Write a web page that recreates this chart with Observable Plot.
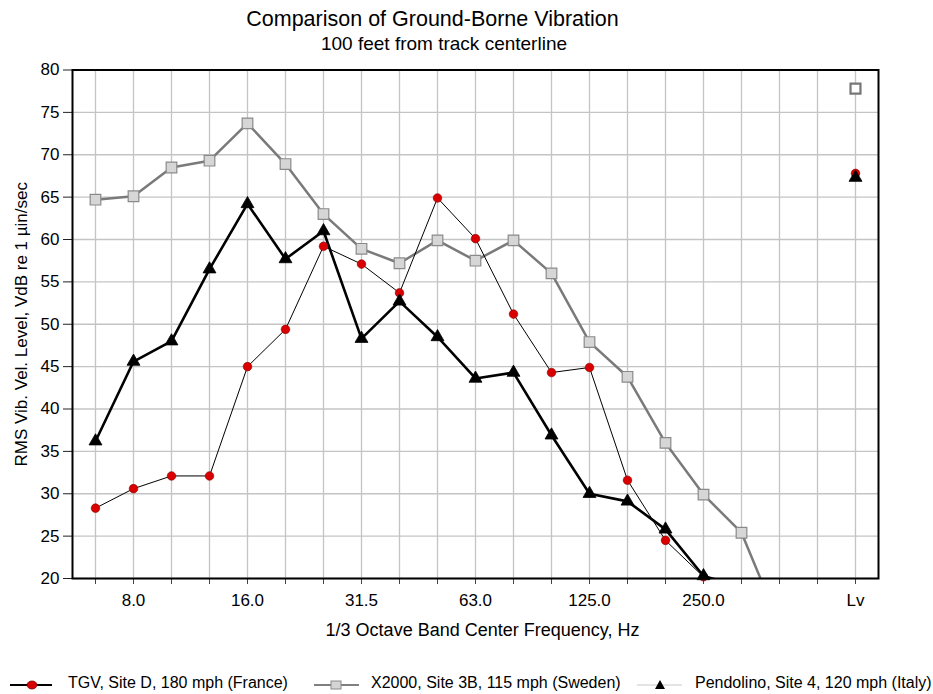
<!DOCTYPE html>
<html><head><meta charset="utf-8">
<script src="https://cdn.jsdelivr.net/npm/d3@7"></script>
<script src="https://cdn.jsdelivr.net/npm/@observablehq/plot@0.6"></script>
<style>
body{margin:0;background:#fff;font-family:"Liberation Sans",Arial,sans-serif;color:#000;}
#wrap{position:relative;width:933px;height:694px;overflow:hidden;background:#fff;}
.t{position:absolute;white-space:nowrap;}
#chart{position:absolute;left:0;top:58px;}
.sw{position:absolute;}
</style></head><body>
<div id="wrap">
  <div class="t" style="left:0;width:865px;text-align:center;top:8px;font-size:21.5px;line-height:22px;">Comparison of Ground-Borne Vibration</div>
  <div class="t" style="left:0;width:888px;text-align:center;top:34px;font-size:19px;line-height:19px;">100 feet from track centerline</div>
  <div id="chart"></div>
  <svg class="sw" style="left:8px;top:677px" width="48" height="16">
    <line x1="2" y1="8" x2="44" y2="8" stroke="#000" stroke-width="2"/>
    <ellipse cx="24" cy="8" rx="5" ry="4" fill="#d80000" stroke="#700" stroke-width="0.8"/>
  </svg>
  <div class="t" style="left:68px;top:675px;font-size:16px;line-height:16px;">TGV, Site D, 180 mph (France)</div>
  <svg class="sw" style="left:312px;top:677px" width="50" height="16">
    <line x1="2" y1="8" x2="47" y2="8" stroke="#808080" stroke-width="2"/>
    <rect x="19" y="4" width="10" height="8" fill="#d4d4d4" stroke="#8a8a8a" stroke-width="1"/>
  </svg>
  <div class="t" style="left:371px;top:675px;font-size:16px;line-height:16px;">X2000, Site 3B, 115 mph (Sweden)</div>
  <svg class="sw" style="left:635px;top:677px" width="50" height="16">
    <line x1="2" y1="8" x2="47" y2="8" stroke="#c8c8c8" stroke-width="1"/>
    <path d="M25,3 L30,12 L20,12 Z" fill="#000"/>
  </svg>
  <div class="t" style="left:695px;top:675px;font-size:16px;line-height:16px;">Pendolino, Site 4, 120 mph (Italy)</div>
</div>
<script>
// 1/3 octave band centre frequencies (Hz) plus overall level Lv
const bands = ["6.3","8.0","10.0","12.5","16.0","20.0","25.0","31.5","40.0","50.0","63.0","80.0","100.0","125.0","160.0","200.0","250.0","315.0","400.0","500.0","Lv"];
const labelledBands = ["8.0","16.0","31.5","63.0","125.0","250.0","Lv"];
const yTicks = [20,25,30,35,40,45,50,55,60,65,70,75,80];

const seriesNames = ["TGV, Site D, 180 mph (France)","X2000, Site 3B, 115 mph (Sweden)","Pendolino, Site 4, 120 mph (Italy)"];
// band spectra (VdB), starting at 6.3 Hz
const tgv = [28.3,30.6,32.1,32.1,45.0,49.4,59.2,57.1,53.7,64.9,60.1,51.2,44.3,44.9,31.6,24.5,20.2];
const x2000 = [64.7,65.1,68.5,69.3,73.7,68.9,63.0,58.9,57.2,59.9,57.5,59.9,56.0,47.9,43.8,36.0,29.9,25.4,14.6];
const pendolino = [36.2,45.6,48.0,56.5,64.2,57.7,61.0,48.3,52.7,48.5,43.6,44.3,36.9,30.0,29.1,25.8,20.3,19.0];
// overall levels Lv (VdB)
const lvValues = [67.8, 77.8, 67.3];

const toRows = (arr) => arr.map((v, i) => ({band: bands[i], v}));
const tgvRows = toRows(tgv), x2000Rows = toRows(x2000), pendRows = toRows(pendolino);
const lvRows = lvValues.map((v, i) => ({band: "Lv", v, s: seriesNames[i]}));

const chart = Plot.plot({
  width: 933,
  height: 600,
  marginLeft: 72,
  marginRight: 55,
  marginTop: 11.5,
  marginBottom: 80,
  style: {fontFamily: "'Liberation Sans', Arial, sans-serif", fontSize: "17px", color: "#000", background: "#fff"},
  x: {type: "point", domain: bands, padding: 0.5},
  y: {domain: [20, 80]},
  marks: [
    Plot.gridX(bands, {stroke: "#c4c4c4", strokeOpacity: 1, strokeWidth: 1.3}),
    Plot.gridY(yTicks, {stroke: "#c4c4c4", strokeOpacity: 1, strokeWidth: 1.3}),
    Plot.axisY(yTicks, {tickSize: 9, tickPadding: 4, fontSize: 17, label: null, stroke: "#222"}),
    Plot.axisX(bands, {tickSize: 6, tickPadding: 9, fontSize: 17, label: null, stroke: "#444",
      tickFormat: d => labelledBands.includes(d) ? d : ""}),
    Plot.text(["1/3 Octave Band Center Frequency, Hz"], {frameAnchor: "bottom", lineAnchor: "top", textAnchor: "middle", dy: 45, dx: 7, fontSize: 18}),
    Plot.text(["RMS Vib. Vel. Level, VdB re 1 µin/sec"], {frameAnchor: "left", textAnchor: "middle", lineAnchor: "middle", rotate: -90, dx: -51, fontSize: 17}),
    Plot.line(x2000Rows, {x: "band", y: "v", stroke: "#7a7a7a", strokeWidth: 2.5, clip: true}),
    Plot.line(tgvRows, {x: "band", y: "v", stroke: "#000", strokeWidth: 1, clip: true}),
    Plot.line(pendRows, {x: "band", y: "v", stroke: "#000", strokeWidth: 2.6, clip: true}),
    Plot.dot(x2000Rows.filter(d => d.v >= 20), {x: "band", y: "v", symbol: "square", r: 6, fill: "#d6d6d6", stroke: "#8a8a8a", strokeWidth: 1.2}),
    Plot.dot(tgvRows, {x: "band", y: "v", symbol: "circle", r: 4.3, fill: "#d80000", stroke: "#8a0000", strokeWidth: 0.6}),
    Plot.dot(pendRows.filter(d => d.v >= 20), {x: "band", y: "v", symbol: "triangle", r: 4.8, fill: "#000", stroke: "#000", strokeWidth: 0.8}),
    Plot.dot([lvRows[1]], {x: "band", y: "v", symbol: "square", r: 5.6, fill: "#fff", stroke: "#777", strokeWidth: 2.2}),
    Plot.dot([lvRows[0]], {x: "band", y: "v", symbol: "circle", r: 4.3, fill: "#d80000", stroke: "#8a0000", strokeWidth: 0.6}),
    Plot.dot([lvRows[2]], {x: "band", y: "v", symbol: "triangle", r: 4.8, fill: "#000", stroke: "#000", strokeWidth: 0.8}),
    Plot.frame({stroke: "#000", strokeWidth: 2})
  ]
});
document.getElementById("chart").appendChild(chart);
</script>
</body></html>
